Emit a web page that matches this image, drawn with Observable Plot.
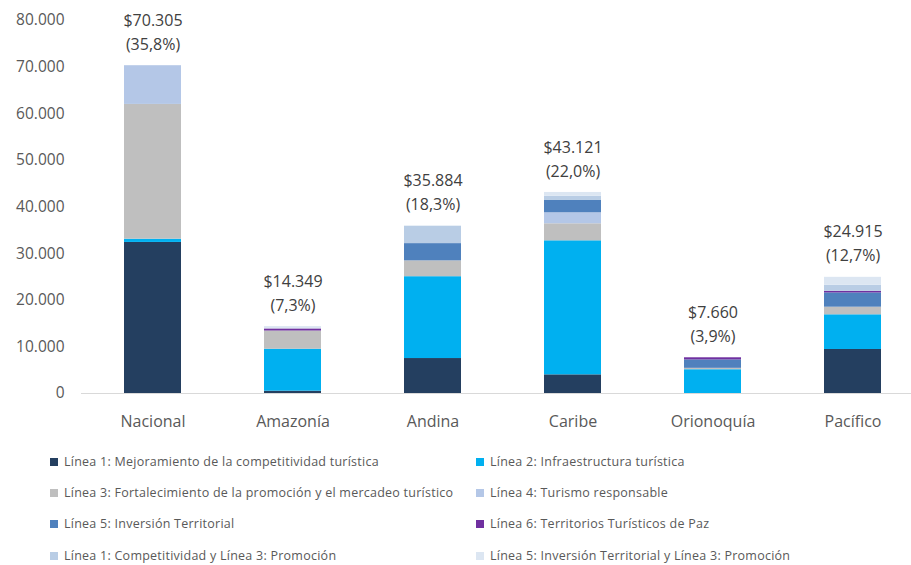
<!DOCTYPE html>
<html>
<head>
<meta charset="utf-8">
<script src="https://cdn.jsdelivr.net/npm/d3@7"></script>
<script src="https://cdn.jsdelivr.net/npm/@observablehq/plot@0.6"></script>
<style>
  html, body { margin: 0; padding: 0; background: #fff; }
  body { width: 911px; height: 565px; overflow: hidden; font-family: "Open Sans", "Noto Sans", sans-serif; }
  #legend { position: relative; height: 125px; }
  .item { position: absolute; display: flex; align-items: center; font-size: 12.5px; color: #595959; white-space: nowrap; letter-spacing: 0.25px; }
  .sw { width: 8px; height: 8px; margin-right: 6px; flex: none; }
</style>
</head>
<body>
<div id="chart"></div>
<div id="legend"></div>
<script>
const categories = ["Nacional", "Amazonía", "Andina", "Caribe", "Orionoquía", "Pacífico"];
const seriesNames = [
  "Línea 1: Mejoramiento de la competitividad turística",
  "Línea 2: Infraestructura turística",
  "Línea 3: Fortalecimiento de la promoción y el mercadeo turístico",
  "Línea 4: Turismo responsable",
  "Línea 5: Inversión Territorial",
  "Línea 6: Territorios Turísticos de Paz",
  "Línea 1: Competitividad y Línea 3: Promoción",
  "Línea 5: Inversión Territorial y Línea 3: Promoción"
];
const seriesColors = ["#243f60", "#00b0f0", "#bfbfbf", "#b4c7e7", "#4f81bd", "#7030a0", "#b9cde5", "#dce6f2"];

// values (millones)
const linea1 = [32400, 500, 7500, 4000, 0, 9440];
const linea2 = [700, 9000, 17550, 28750, 5100, 7440];
const linea3 = [28900, 3900, 3400, 3650, 300, 1630];
const linea4 = [8305, 0, 0, 2360, 0, 0];
const linea5 = [0, 0, 3700, 2640, 1800, 3060];
const linea6 = [0, 450, 0, 0, 460, 350];
const linea1y3 = [0, 0, 3734, 920, 0, 1280];
const linea5y3 = [0, 499, 0, 801, 0, 1715];
const totals = [70305, 14349, 35884, 43121, 7660, 24915];
const shares = [35.8, 7.3, 18.3, 22.0, 3.9, 12.7];
const yTicks = [0, 10000, 20000, 30000, 40000, 50000, 60000, 70000, 80000];

const seriesValues = [linea1, linea2, linea3, linea4, linea5, linea6, linea1y3, linea5y3];
const rows = [];
seriesValues.forEach((vals, si) => {
  vals.forEach((v, ci) => rows.push({serie: seriesNames[si], cat: categories[ci], value: v}));
});

const loc = d3.formatLocale({decimal: ",", thousands: ".", grouping: [3], currency: ["$", ""]});
const fmtInt = loc.format(",.0f");
const fmtPct = loc.format(".1f");
const labels = categories.map((c, i) => ({cat: c, total: totals[i], t1: "$" + fmtInt(totals[i]), t2: "(" + fmtPct(shares[i]) + "%)"}));

const chart = Plot.plot({
  width: 911,
  height: 440,
  marginLeft: 81,
  marginRight: 0,
  marginTop: 20,
  marginBottom: 47,
  style: {fontFamily: "'Open Sans', 'Noto Sans', sans-serif", color: "#595959", background: "#fff"},
  x: {domain: categories, range: [81.5, 924], paddingInner: 0.596, paddingOuter: 0.298, label: null},
  y: {domain: [0, 80000], label: null},
  color: {domain: seriesNames, range: seriesColors},
  marks: [
    Plot.barY(rows, {x: "cat", y: "value", fill: "serie", order: seriesNames}),
    Plot.ruleY([0], {stroke: "#d9d9d9", strokeWidth: 1}),
    Plot.axisY({ticks: yTicks, tickSize: 0, tickPadding: 17, tickFormat: d => fmtInt(d), fontSize: 15.5, fill: "#595959", label: null}),
    Plot.axisX({tickSize: 0, tickPadding: 22, fontSize: 16, fill: "#595959", label: null}),
    Plot.text(labels, {x: "cat", y: "total", text: "t1", dy: -45, fontSize: 16, fill: "#404040"}),
    Plot.text(labels, {x: "cat", y: "total", text: "t2", dy: -21, fontSize: 16, fill: "#404040"})
  ]
});
document.getElementById("chart").appendChild(chart);

const legend = document.getElementById("legend");
const rowsY = [22, 53, 84, 116];
seriesNames.forEach((name, i) => {
  const col = i % 2, row = Math.floor(i / 2);
  const d = document.createElement("div");
  d.className = "item";
  d.style.left = (col === 0 ? 50 : 476) + "px";
  d.style.top = (rowsY[row] - 9) + "px";
  d.innerHTML = `<span class="sw" style="background:${seriesColors[i]}"></span><span>${name}</span>`;
  legend.appendChild(d);
});
</script>
</body>
</html>
